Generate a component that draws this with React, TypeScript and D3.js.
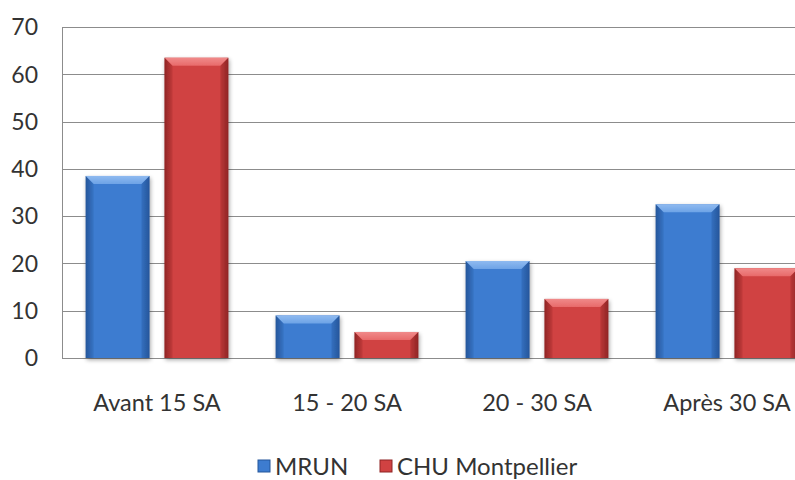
import React from "react";
import * as d3 from "d3";

const categories = ["Avant 15 SA", "15 - 20 SA", "20 - 30 SA", "Après 30 SA"];
const seriesNames = ["MRUN", "CHU Montpellier"];
const mrun = [38.5, 9, 20.5, 32.5];
const chu = [63.5, 5.5, 12.5, 19];
const yTicks = [0, 10, 20, 30, 40, 50, 60, 70];

const W = 795;
const H = 480;
const FONT = "Lato, 'Open Sans', sans-serif";

const palettes = [
  { light: "#6da3e6", mid: "#3d7cd0", dark: "#25569b", top: "#8fbaf0" },
  { light: "#e86a6a", mid: "#d04242", dark: "#8f2424", top: "#f08a8a" },
];

export default function App() {
  const left = 62;
  const top = 27;
  const bottom = 358;
  const right = 822;

  const x0 = d3.scaleBand<string>().domain(categories).range([left, right]).paddingInner(0).paddingOuter(0);
  const x1 = d3
    .scaleBand<string>()
    .domain(seriesNames)
    .range([0, x0.bandwidth()])
    .paddingInner(0.19)
    .paddingOuter(0.3);
  const y = d3.scaleLinear().domain([0, 70]).range([bottom, top]);

  const data = [mrun, chu];

  return (
    <svg
      width={W}
      height={H}
      style={{ position: "absolute", left: 0, top: 0, display: "block", background: "#fff" }}
    >
      <defs>
        {palettes.map((p, i) => (
          <React.Fragment key={i}>
            <linearGradient id={`body${i}`} x1="0" x2="1" y1="0" y2="0">
              <stop offset="0" stopColor={p.dark} />
              <stop offset="0.12" stopColor={p.mid} />
              <stop offset="0.5" stopColor={p.mid} />
              <stop offset="0.88" stopColor={p.mid} />
              <stop offset="1" stopColor={p.dark} />
            </linearGradient>
            <linearGradient id={`top${i}`} x1="0" x2="0" y1="0" y2="1">
              <stop offset="0" stopColor={p.top} />
              <stop offset="1" stopColor={p.light} />
            </linearGradient>
          </React.Fragment>
        ))}
        <filter id="shadow" x="-20%" y="-10%" width="140%" height="130%">
          <feGaussianBlur in="SourceAlpha" stdDeviation="2" />
          <feOffset dx="1" dy="2" result="b" />
          <feComponentTransfer>
            <feFuncA type="linear" slope="0.35" />
          </feComponentTransfer>
          <feMerge>
            <feMergeNode />
            <feMergeNode in="SourceGraphic" />
          </feMerge>
        </filter>
      </defs>

      {/* gridlines */}
      {yTicks.map((t) => (
        <line
          key={t}
          x1={left}
          x2={right}
          y1={Math.round(y(t)) + 0.5}
          y2={Math.round(y(t)) + 0.5}
          stroke="#8c8c8c"
          strokeWidth={1}
        />
      ))}
      <line x1={left + 0.5} x2={left + 0.5} y1={top} y2={bottom + 0.5} stroke="#8c8c8c" />

      {/* y tick labels */}
      {yTicks.map((t) => (
        <text
          key={t}
          x={38}
          y={y(t)}
          dy="0.36em"
          textAnchor="end"
          fontFamily={FONT}
          fontSize={23}
          fill="#333"
        >
          {t}
        </text>
      ))}

      {/* bars */}
      {categories.map((c, ci) => (
        <g key={c} transform={`translate(${x0(c)},0)`}>
          {seriesNames.map((s, si) => {
            const v = data[si][ci];
            const bx = x1(s)!;
            const bw = x1.bandwidth();
            const by = y(v);
            const bh = y(0) - by;
            const bev = Math.min(8, bh / 2);
            return (
              <g key={s} filter="url(#shadow)">
                <rect x={bx} y={by} width={bw} height={bh} fill={`url(#body${si})`} />
                <path
                  d={`M${bx},${by} L${bx + bw},${by} L${bx + bw - bev},${by + bev} L${bx + bev},${by + bev} Z`}
                  fill={`url(#top${si})`}
                />
                <path
                  d={`M${bx},${by} L${bx + bev},${by + bev} L${bx + bev},${by + bh} L${bx},${by + bh} Z`}
                  fill={palettes[si].dark}
                  opacity={0.25}
                />
                <path
                  d={`M${bx + bw},${by} L${bx + bw - bev},${by + bev} L${bx + bw - bev},${by + bh} L${bx + bw},${by + bh} Z`}
                  fill={palettes[si].dark}
                  opacity={0.35}
                />
              </g>
            );
          })}
          <text
            x={x0.bandwidth() / 2}
            y={403}
            dy="0.36em"
            textAnchor="middle"
            fontFamily={FONT}
            fontSize={23.5}
            fill="#333"
          >
            {c}
          </text>
        </g>
      ))}

      {/* legend */}
      {seriesNames.map((s, si) => {
        const lx = si === 0 ? 258 : 380;
        return (
          <g key={s}>
            <rect x={lx} y={460} width={12} height={12} fill={palettes[si].mid} stroke={palettes[si].dark} strokeWidth={1} />
            <text
              x={lx + 17}
              y={466}
              dy="0.36em"
              fontFamily={FONT}
              fontSize={24}
              fill="#333"
            >
              {s}
            </text>
          </g>
        );
      })}
    </svg>
  );
}
